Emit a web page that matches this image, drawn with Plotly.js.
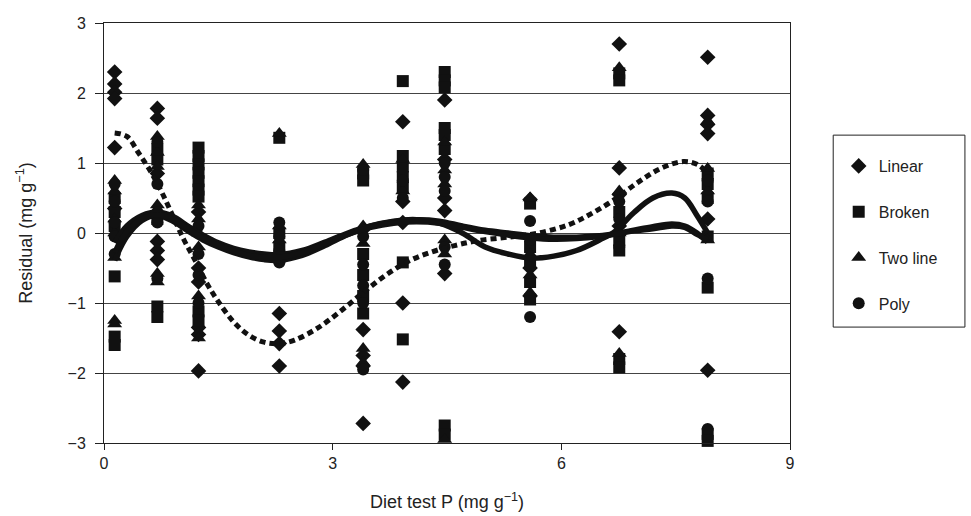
<!DOCTYPE html>
<html>
<head>
<meta charset="utf-8">
<script src="https://cdn.plot.ly/plotly-3.0.1.min.js"></script>
<style>
  html, body { margin: 0; padding: 0; background: #fff; }
  #chart { width: 971px; height: 516px; }
</style>
</head>
<body>
<div id="chart"></div>
<script>
// Diet test P levels (mg g-1)
const dietP = [0.14, 0.7, 1.24, 2.3, 3.4, 3.92, 4.47, 5.59, 6.76, 7.92];

// Residuals of each model at each diet level (one list per level)
const linearResid = [
  [2.3, 2.13, 2.01, 1.92, 1.22, 0.35],
  [1.78, 1.64, 0.85, -0.12, -0.25, -0.38],
  [0.3, -0.5, -0.7, -1.35, -1.45, -1.97],
  [-1.15, -1.4, -1.58, -1.9],
  [0.05, -1.38, -1.75, -1.9, -2.72],
  [1.59, 0.45, 0.15, -1.0, -2.13],
  [1.9, 1.05, 0.5, 0.32, -0.58],
  [0.48, -0.5, -0.9],
  [2.7, 0.93, 0.55, 0.1, -1.41],
  [2.51, 1.68, 1.55, 1.42, 0.2, -1.96]
];
const brokenResid = [
  [0.5, 0.3, 0.1, -0.62, -1.48, -1.6],
  [1.2, 1.05, 0.2, -1.05, -1.2],
  [1.22, 1.1, 0.98, 0.86, 0.74, 0.62, 0.52, -1.12, -1.25],
  [1.36, 0.0, -0.2, -0.35],
  [0.85, 0.75, -0.3, -0.6, -0.9, -1.15],
  [2.17, 1.1, 0.95, 0.8, 0.65, -0.42, -1.52],
  [2.3, 2.18, 2.08, 1.5, 1.4, 1.2, -2.75, -2.88],
  [0.42, -0.2, -0.4, -0.7, -0.95],
  [2.28, 2.18, 0.3, -0.1, -0.25, -1.8, -1.92],
  [0.85, 0.7, 0.5, -0.05, -0.78, -2.87, -2.97]
];
const twoLineResid = [
  [0.75, 0.6, 0.2, 0.0, -0.35, -1.25, -1.3],
  [1.38, 1.15, 0.95, 0.4, -0.58, -0.7],
  [0.4, 0.2, 0.0, -0.2, -0.9, -1.5],
  [1.42, 0.1, -0.1, -0.3],
  [0.98, 0.1, -0.15, -1.65, -1.85],
  [1.05, 0.6],
  [1.3, 0.9, 0.7, -0.1, -0.3, -2.95],
  [0.5, -0.3, -0.6, -0.85],
  [2.36, 0.6, 0.0, -1.72],
  [1.6, 0.92, 0.6, -0.1]
];
const polyResid = [
  [0.7, 0.45, 0.15, -0.05, -0.3],
  [1.3, 0.7, 0.3, 0.15, -0.65],
  [0.1, -0.3, -0.6, -1.0],
  [0.15, -0.05, -0.25, -0.42],
  [0.9, -0.05, -0.45, -0.75, -1.0, -1.95],
  [0.75, 0.5],
  [1.0, 0.8, 0.6, -0.2, -0.45],
  [0.17, -0.1, -1.2],
  [0.45, 0.2, -0.2],
  [0.75, 0.45, -0.65, -2.8]
];

// Trend curves through the residuals
const trendLinearX = [0.14, 0.3, 0.45, 0.6, 0.75, 0.9, 1.05, 1.2, 1.35, 1.5, 1.7, 1.9, 2.1, 2.3, 2.5, 2.8, 3.1, 3.4, 3.7, 4.0, 4.3, 4.6, 4.9, 5.3, 5.7, 6.1, 6.4, 6.7, 7.0, 7.3, 7.6, 7.8, 7.92];
const trendLinearY = [1.43, 1.38, 1.15, 0.9, 0.6, 0.25, -0.1, -0.4, -0.72, -0.98, -1.27, -1.46, -1.56, -1.58, -1.53, -1.36, -1.12, -0.85, -0.6, -0.4, -0.27, -0.18, -0.11, -0.06, 0.0, 0.12, 0.28, 0.48, 0.72, 0.92, 1.02, 0.97, 0.85];

const trendX = [0.14, 0.3, 0.5, 0.7, 0.9, 1.1, 1.3, 1.5, 1.7, 1.9, 2.1, 2.3, 2.6, 2.9, 3.2, 3.5, 3.8, 4.1, 4.4, 4.7, 5.0, 5.3, 5.6, 5.9, 6.2, 6.5, 6.7, 6.95, 7.2, 7.45, 7.62, 7.78, 7.92];
const trendBrokenY = [-0.39, -0.05, 0.18, 0.25, 0.17, 0.03, -0.1, -0.2, -0.28, -0.34, -0.38, -0.39, -0.32, -0.18, -0.02, 0.1, 0.17, 0.19, 0.14, 0.0, -0.2, -0.3, -0.36, -0.33, -0.25, -0.1, 0.02, 0.29, 0.5, 0.57, 0.5, 0.25, 0.0];
const trendTwoLineY = [-0.14, 0.1, 0.25, 0.3, 0.24, 0.1, -0.03, -0.14, -0.22, -0.27, -0.3, -0.31, -0.25, -0.13, 0.0, 0.1, 0.16, 0.19, 0.17, 0.1, 0.04, 0.0, -0.04, -0.06, -0.06, -0.04, -0.01, 0.04, 0.09, 0.13, 0.1, 0.0, -0.13];
const trendPolyY = [-0.28, 0.02, 0.2, 0.26, 0.2, 0.06, -0.07, -0.18, -0.26, -0.32, -0.35, -0.35, -0.28, -0.15, -0.02, 0.08, 0.14, 0.16, 0.14, 0.08, 0.02, -0.03, -0.07, -0.09, -0.08, -0.05, -0.02, 0.03, 0.06, 0.1, 0.08, -0.02, -0.1];

const seriesNames = ['Linear', 'Broken', 'Two line', 'Poly'];
const seriesSymbols = ['diamond', 'square', 'triangle-up', 'circle'];
const seriesSizes = [12, 12, 13, 12];

function flatten(resid) {
  const xs = [], ys = [];
  resid.forEach((vals, i) => vals.forEach(v => { xs.push(dietP[i]); ys.push(v); }));
  return { xs, ys };
}

const traces = [];
[linearResid, brokenResid, twoLineResid, polyResid].forEach((resid, k) => {
  const f = flatten(resid);
  traces.push({
    type: 'scatter', mode: 'markers', name: seriesNames[k],
    legendgroup: 'g' + k,
    x: f.xs, y: f.ys,
    marker: { symbol: seriesSymbols[k], size: seriesSizes[k], color: '#111', line: { width: 0 } },
    cliponaxis: false
  });
});

const lineStyle = { color: '#111', width: 5.5, shape: 'spline', smoothing: 1 };
traces.push({ type: 'scatter', mode: 'lines', x: trendLinearX, y: trendLinearY, showlegend: false,
  line: Object.assign({}, lineStyle, { width: 5, dash: '6px,4px' }) });
traces.push({ type: 'scatter', mode: 'lines', x: trendX, y: trendBrokenY, showlegend: false, line: lineStyle });
traces.push({ type: 'scatter', mode: 'lines', x: trendX, y: trendTwoLineY, showlegend: false, line: lineStyle });
traces.push({ type: 'scatter', mode: 'lines', x: trendX, y: trendPolyY, showlegend: false, line: lineStyle });

const fontFam = '"Liberation Sans", Arial, sans-serif';

const layout = {
  width: 971, height: 516,
  margin: { l: 104, r: 181, t: 23, b: 73 },
  paper_bgcolor: '#fff', plot_bgcolor: '#fff',
  font: { family: fontFam, size: 16, color: '#222' },
  showlegend: true,
  legend: {
    x: 1.071, y: 0.70, xanchor: 'left', yanchor: 'top',
    font: { family: fontFam, size: 16, color: '#222' },
    bgcolor: 'rgba(0,0,0,0)', borderwidth: 0,
    tracegroupgap: 22, itemwidth: 30
  },
  xaxis: {
    range: [0, 9], tickvals: [0, 3, 6, 9], ticktext: ['0', '3', '6', '9'],
    ticks: 'outside', ticklen: 6, tickcolor: '#222', tickwidth: 1,
    showline: true, linecolor: '#222', linewidth: 1, mirror: true,
    showgrid: false, zeroline: false,
    title: { text: 'Diet test P (mg g<sup>−1</sup>)', font: { size: 18, color: '#222' }, standoff: 24 }
  },
  yaxis: {
    range: [-3, 3], tickvals: [-3, -2, -1, 0, 1, 2, 3],
    ticks: 'outside', ticklen: 8, tickcolor: '#222', tickwidth: 1,
    showline: true, linecolor: '#222', linewidth: 1, mirror: true,
    showgrid: true, gridcolor: '#444', gridwidth: 1, zeroline: false,
    ticklabelstandoff: 6,
    title: { text: 'Residual (mg g<sup>−1</sup>)', font: { size: 18, color: '#222' }, standoff: 30 }
  },
  shapes: [{
    type: 'rect', xref: 'paper', yref: 'paper',
    x0: 1.063, x1: 1.255, y0: 0.276, y1: 0.733,
    line: { color: '#222', width: 1 }, fillcolor: 'rgba(0,0,0,0)'
  }]
};

Plotly.newPlot('chart', traces, layout, { displayModeBar: false, staticPlot: true });
</script>
</body>
</html>
